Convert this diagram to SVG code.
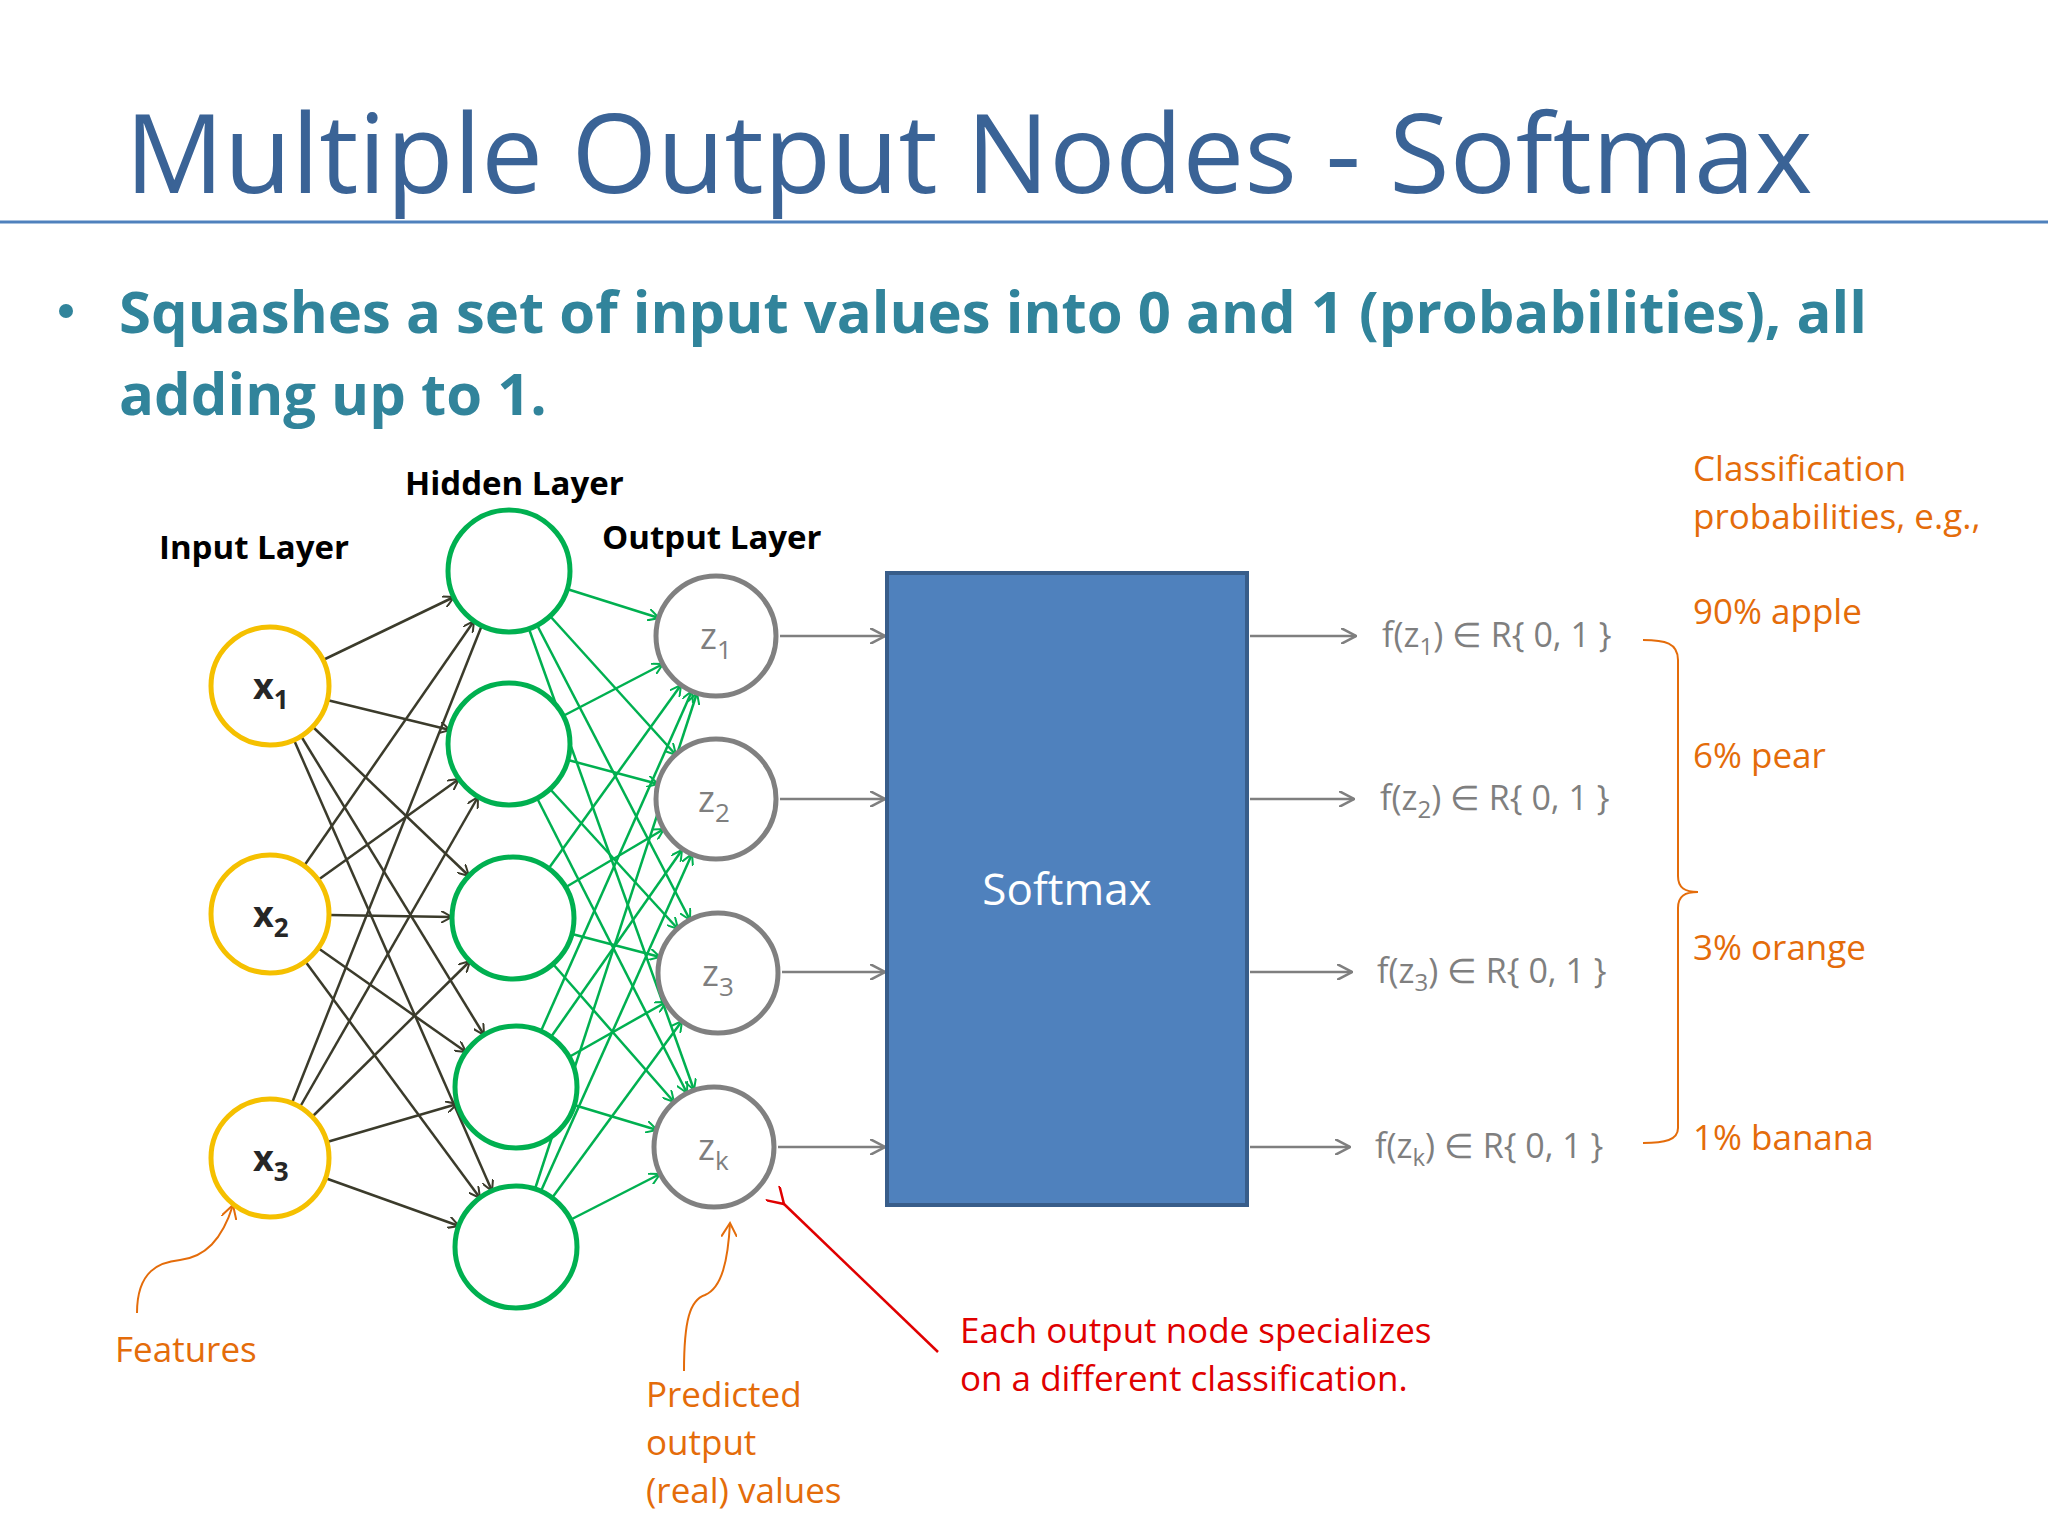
<svg xmlns="http://www.w3.org/2000/svg" width="2048" height="1536" viewBox="0 0 2048 1536">
<style>
text{font-family:"Open Sans","Noto Sans","Liberation Sans",sans-serif}
.lbl{font-weight:bold;font-size:33px;fill:#000}
.org{font-size:35px;fill:#e46c0a}
.fz{font-size:34px;fill:#7f7f7f}
.red{font-size:35px;fill:#e00000}
.inp{fill:#fff;stroke:#f5c000;stroke-width:5}
.hid{fill:#fff;stroke:#00b050;stroke-width:5}
.out{fill:#fff;stroke:#808080;stroke-width:5}
.dk{stroke:#3b3b2b;stroke-width:2.5;marker-end:url(#ad)}
.gr{stroke:#00b050;stroke-width:2.5;marker-end:url(#ag)}
.gy{stroke:#7f7f7f;stroke-width:2.5;marker-end:url(#ay)}
.nx{font-weight:bold;font-size:36px;fill:#262626}
.nz{font-size:36px;fill:#7f7f7f}
</style>
<defs>
<marker id="ad" markerWidth="12" markerHeight="12" refX="11" refY="6" orient="auto" markerUnits="userSpaceOnUse"><path d="M0,0 L11,6 L0,12" fill="none" stroke="#3b3b2b" stroke-width="2"/></marker>
<marker id="ag" markerWidth="12" markerHeight="12" refX="11" refY="6" orient="auto" markerUnits="userSpaceOnUse"><path d="M0,0 L11,6 L0,12" fill="none" stroke="#00b050" stroke-width="2"/></marker>
<marker id="ay" markerWidth="16" markerHeight="16" refX="15" refY="8" orient="auto" markerUnits="userSpaceOnUse"><path d="M0,0 L15,8 L0,16" fill="none" stroke="#7f7f7f" stroke-width="2.5"/></marker>
<marker id="ar" markerWidth="20" markerHeight="20" refX="2" refY="10" orient="auto" markerUnits="userSpaceOnUse"><path d="M18,0 L2,10 L18,20" fill="none" stroke="#e00000" stroke-width="2.5"/></marker>
<marker id="ao" markerWidth="16" markerHeight="16" refX="14" refY="8" orient="auto" markerUnits="userSpaceOnUse"><path d="M0,0 L14,8 L0,16" fill="none" stroke="#e46c0a" stroke-width="2"/></marker>
</defs>
<rect width="2048" height="1536" fill="#fff"/>
<text x="125" y="193" font-size="110" fill="#3a6396">Multiple Output Nodes - Softmax</text>
<line x1="0" y1="222" x2="2048" y2="222" stroke="#4f81bd" stroke-width="3"/>
<circle cx="66" cy="311" r="7" fill="#31849b"/>
<text x="119" y="333" font-size="58" font-weight="bold" fill="#31849b">Squashes a set of input values into 0 and 1 (probabilities), all</text>
<text x="119" y="415" font-size="58" font-weight="bold" fill="#31849b">adding up to 1.</text>
<text class="lbl" x="405" y="495">Hidden Layer</text>
<text class="lbl" x="159" y="559">Input Layer</text>
<text class="lbl" x="602" y="549">Output Layer</text>
<g id="connectors" fill="none">
<line class="dk" x1="323" y1="660" x2="454" y2="597"/>
<line class="dk" x1="327" y1="700" x2="450" y2="730"/>
<line class="dk" x1="313" y1="727" x2="469" y2="876"/>
<line class="dk" x1="301" y1="736" x2="484" y2="1035"/>
<line class="dk" x1="294" y1="740" x2="492" y2="1191"/>
<line class="dk" x1="304" y1="866" x2="474" y2="621"/>
<line class="dk" x1="318" y1="880" x2="459" y2="779"/>
<line class="dk" x1="329" y1="915" x2="452" y2="917"/>
<line class="dk" x1="318" y1="948" x2="466" y2="1052"/>
<line class="dk" x1="305" y1="961" x2="480" y2="1198"/>
<line class="dk" x1="292" y1="1103" x2="486" y2="615"/>
<line class="dk" x1="300" y1="1107" x2="478" y2="797"/>
<line class="dk" x1="312" y1="1117" x2="470" y2="961"/>
<line class="dk" x1="327" y1="1142" x2="457" y2="1104"/>
<line class="dk" x1="325" y1="1178" x2="459" y2="1226"/>
<line class="gr" x1="567" y1="589" x2="659" y2="618"/>
<line class="gr" x1="550" y1="616" x2="676" y2="755"/>
<line class="gr" x1="537" y1="625" x2="690" y2="920"/>
<line class="gr" x1="529" y1="629" x2="694" y2="1090"/>
<line class="gr" x1="563" y1="716" x2="663" y2="664"/>
<line class="gr" x1="568" y1="760" x2="658" y2="784"/>
<line class="gr" x1="550" y1="789" x2="678" y2="929"/>
<line class="gr" x1="537" y1="798" x2="687" y2="1093"/>
<line class="gr" x1="549" y1="868" x2="681" y2="685"/>
<line class="gr" x1="566" y1="887" x2="664" y2="829"/>
<line class="gr" x1="572" y1="934" x2="660" y2="957"/>
<line class="gr" x1="553" y1="964" x2="674" y2="1102"/>
<line class="gr" x1="541" y1="1031" x2="692" y2="691"/>
<line class="gr" x1="551" y1="1037" x2="682" y2="850"/>
<line class="gr" x1="569" y1="1057" x2="666" y2="1002"/>
<line class="gr" x1="574" y1="1105" x2="657" y2="1130"/>
<line class="gr" x1="535" y1="1189" x2="697" y2="693"/>
<line class="gr" x1="541" y1="1191" x2="692" y2="854"/>
<line class="gr" x1="552" y1="1198" x2="682" y2="1021"/>
<line class="gr" x1="570" y1="1220" x2="660" y2="1174"/>
<line class="gy" x1="780" y1="636" x2="885" y2="636"/>
<line class="gy" x1="780" y1="799" x2="885" y2="799"/>
<line class="gy" x1="782" y1="972" x2="885" y2="972"/>
<line class="gy" x1="778" y1="1147" x2="885" y2="1147"/>
<line class="gy" x1="1250" y1="636" x2="1356" y2="636"/>
<line class="gy" x1="1250" y1="799" x2="1354" y2="799"/>
<line class="gy" x1="1250" y1="972" x2="1352" y2="972"/>
<line class="gy" x1="1250" y1="1147" x2="1350" y2="1147"/>
<path d="M137,1313 C137,1270 160,1262 180,1260 C205,1257 222,1240 233,1205" stroke="#e46c0a" stroke-width="2" marker-end="url(#ao)"/>
<path d="M684,1371 C684,1320 690,1300 705,1295 C722,1288 728,1260 730,1223" stroke="#e46c0a" stroke-width="2" marker-end="url(#ao)"/>
<line x1="938" y1="1352" x2="784" y2="1204" stroke="#e00000" stroke-width="2.5" marker-end="url(#ar)"/>
<path d="M1643,640 C1665,640 1678,643 1678,660 L1678,876 C1678,888 1685,892 1698,892 C1685,892 1678,896 1678,908 L1678,1128 C1678,1140 1665,1143 1643,1143" stroke="#e46c0a" stroke-width="2"/>
</g>
<g id="in1"><circle class="inp" cx="270" cy="686" r="59"/><text class="nx" x="253" y="699">x<tspan font-size="26" dy="10">1</tspan></text></g>
<g id="in2"><circle class="inp" cx="270" cy="914" r="59"/><text class="nx" x="253" y="927">x<tspan font-size="26" dy="10">2</tspan></text></g>
<g id="in3"><circle class="inp" cx="270" cy="1158" r="59"/><text class="nx" x="253" y="1171">x<tspan font-size="26" dy="10">3</tspan></text></g>
<g id="h1"><circle class="hid" cx="509" cy="571" r="61"/></g>
<g id="h2"><circle class="hid" cx="509" cy="744" r="61"/></g>
<g id="h3"><circle class="hid" cx="513" cy="918" r="61"/></g>
<g id="h4"><circle class="hid" cx="516" cy="1087" r="61"/></g>
<g id="h5"><circle class="hid" cx="516" cy="1247" r="61"/></g>
<g id="o1"><circle class="out" cx="716" cy="636" r="60"/><text class="nz" x="700" y="649">z<tspan font-size="26" dy="10">1</tspan></text></g>
<g id="o2"><circle class="out" cx="716" cy="799" r="60"/><text class="nz" x="698" y="812">z<tspan font-size="26" dy="10">2</tspan></text></g>
<g id="o3"><circle class="out" cx="718" cy="973" r="60"/><text class="nz" x="702" y="986">z<tspan font-size="26" dy="10">3</tspan></text></g>
<g id="o4"><circle class="out" cx="714" cy="1147" r="60"/><text class="nz" x="698" y="1160">z<tspan font-size="26" dy="10">k</tspan></text></g>
<g id="softmax"><rect x="887" y="573" width="360" height="632" fill="#4f81bd" stroke="#385d8a" stroke-width="4"/><text x="1067" y="905" font-size="44" fill="#fff" text-anchor="middle">Softmax</text></g>
<g id="results">
<text class="fz" x="1382" y="647">f(z<tspan font-size="24" dy="8">1</tspan><tspan dy="-8">) ∈ R{ 0, 1 }</tspan></text>
<text class="fz" x="1380" y="810">f(z<tspan font-size="24" dy="8">2</tspan><tspan dy="-8">) ∈ R{ 0, 1 }</tspan></text>
<text class="fz" x="1377" y="983">f(z<tspan font-size="24" dy="8">3</tspan><tspan dy="-8">) ∈ R{ 0, 1 }</tspan></text>
<text class="fz" x="1375" y="1158">f(z<tspan font-size="24" dy="8">k</tspan><tspan dy="-8">) ∈ R{ 0, 1 }</tspan></text>
</g>
<text class="org" x="1693" y="481">Classification</text>
<text class="org" x="1693" y="529">probabilities, e.g.,</text>
<text class="org" x="1693" y="624">90% apple</text>
<text class="org" x="1693" y="768">6% pear</text>
<text class="org" x="1693" y="960">3% orange</text>
<text class="org" x="1693" y="1150">1% banana</text>
<text class="org" x="115" y="1362">Features</text>
<text class="org" x="646" y="1407">Predicted</text>
<text class="org" x="646" y="1455">output</text>
<text class="org" x="646" y="1503">(real) values</text>
<text class="red" x="960" y="1343">Each output node specializes</text>
<text class="red" x="960" y="1391">on a different classification.</text>
</svg>
